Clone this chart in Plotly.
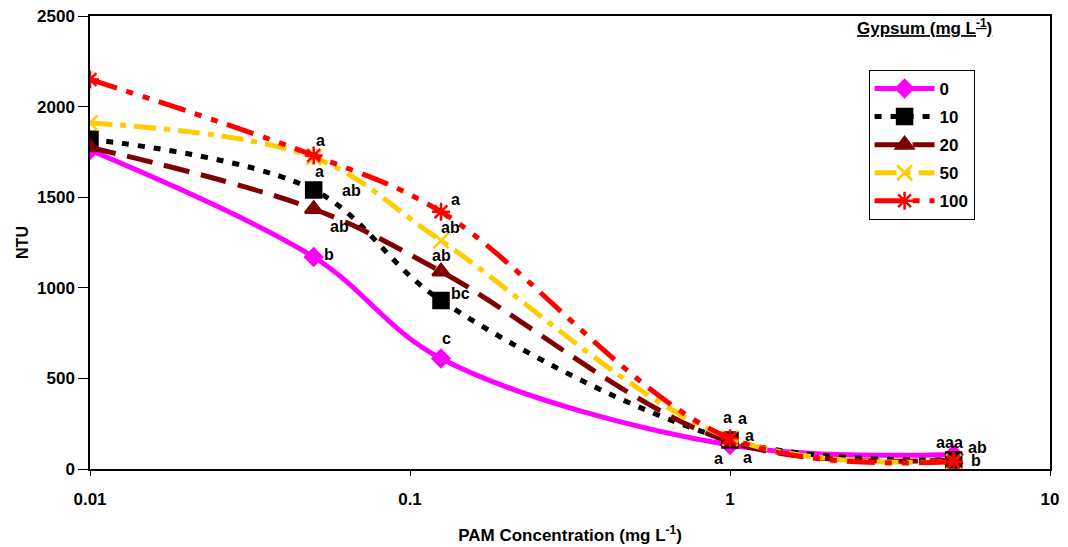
import math
import plotly.graph_objects as go

# PAM concentration (mg L-1)
pam = [0.01, 0.05, 0.125, 1, 5]

# NTU for each gypsum dose (mg L-1)
ntu_0 = [1760, 1170, 610, 132, 80]
ntu_10 = [1820, 1540, 930, 160, 50]
ntu_20 = [1775, 1435, 1090, 150, 50]
ntu_50 = [1910, 1720, 1260, 170, 40]
ntu_100 = [2150, 1730, 1420, 170, 40]

series_names = ["0", "10", "20", "50", "100"]

# significance letters per series, per PAM level
letters_0 = ["", "b", "c", "a", "b"]
letters_10 = ["", "ab", "bc", "a", "a"]
letters_20 = ["", "ab", "ab", "a", "ab"]
letters_50 = ["", "a", "ab", "a", "a"]
letters_100 = ["", "a", "a", "a", "a"]

FONT = "Liberation Sans, Arial, sans-serif"

styles = [
    dict(color="#FF00FF", dash="solid", symbol="diamond", size=13),
    dict(color="#000000", dash="7px,9px", symbol="square", size=15),
    dict(color="#800000", dash="26px,12px", symbol="triangle-up", size=15),
    dict(color="#FFCC00", dash="22px,8px,6px,8px", symbol="x-thin-open", size=15),
    dict(color="#FF0000", dash="28px,10px,7px,10px,7px,10px", symbol="asterisk-open", size=15),
]

# label offsets in pixels (x, y) relative to each point
offsets = [
    [None, (15, 3), (5, 20), (-12, -13), (22, -6)],
    [None, (38, -1), (19, 7), (19, 5), (5, 17)],
    [None, (26, -18), (0, 16), (17, -16), (24, 12)],
    [None, (6, -14), (9, 13), (-3, 21), (-4, 19)],
    [None, (7, 15), (14, 12), (12, 20), (-13, 19)],
]

all_y = [ntu_0, ntu_10, ntu_20, ntu_50, ntu_100]
all_letters = [letters_0, letters_10, letters_20, letters_50, letters_100]

fig = go.Figure()
for i, (name, y, st) in enumerate(zip(series_names, all_y, styles)):
    fig.add_trace(go.Scatter(
        x=pam, y=y, name=name, mode="lines+markers",
        legendgroup=name,
        line=dict(color=st["color"], width=5, dash=st["dash"], shape="spline", smoothing=1),
        marker=dict(symbol=st["symbol"], size=st["size"], color=st["color"],
                    line=dict(color=st["color"], width=2.5)),
    ))

# letters; annotation x on a log axis is given in log10 units
for i in range(5):
    for j in range(5):
        txt = all_letters[i][j]
        if not txt:
            continue
        dx, dy = offsets[i][j]
        fig.add_annotation(x=math.log10(pam[j]), y=all_y[i][j], xref="x", yref="y",
                           text="<b>" + txt + "</b>",
                           showarrow=False, xshift=dx, yshift=dy,
                           font=dict(family=FONT, size=16, color="black"))

fig.add_annotation(x=0.869, y=1.005, xref="paper", yref="paper",
                   text="<b><u>Gypsum (mg L<sup>-1</sup>)</u></b>", showarrow=False,
                   xanchor="center", yanchor="top",
                   font=dict(family=FONT, size=17, color="black"))

# page body has an 8px margin, so the figure is 8px smaller than the window
fig.update_layout(
    width=1060, height=539,
    margin=dict(l=82, r=18, t=8, b=78),
    paper_bgcolor="white", plot_bgcolor="white",
    font=dict(family=FONT, size=16, color="black"),
    legend=dict(x=0.811, y=0.881, xanchor="left", yanchor="top",
                bordercolor="black", borderwidth=1, bgcolor="white",
                font=dict(family=FONT, size=17, color="black", weight="bold"),
                traceorder="grouped", tracegroupgap=3, itemwidth=60),
    showlegend=True,
)
fig.update_xaxes(type="log", range=[-2, 1], tickvals=[0.01, 0.1, 1, 10],
                 ticktext=["0.01", "0.1", "1", "10"], ticks="outside", ticklen=5,
                 tickcolor="black", showline=True, linecolor="black", linewidth=1.5,
                 mirror=True, showgrid=False, zeroline=False, automargin=False,
                 ticklabeloverflow="allow", ticklabelstandoff=9,
                 tickfont=dict(family=FONT, size=17, weight="bold"),
                 title=dict(text="<b>PAM Concentration (mg L<sup>-1</sup>)</b>",
                            font=dict(family=FONT, size=17), standoff=21))
fig.update_yaxes(range=[0, 2500], dtick=500, ticks="outside", ticklen=10,
                 tickcolor="black", showline=True, linecolor="black", linewidth=1.5,
                 mirror=True, showgrid=False, zeroline=False, automargin=False,
                 ticklabeloverflow="allow",
                 tickfont=dict(family=FONT, size=17, weight="bold"),
                 title=dict(text="<b>NTU</b>", font=dict(family=FONT, size=16), standoff=4))

fig.write_html("out.html")
